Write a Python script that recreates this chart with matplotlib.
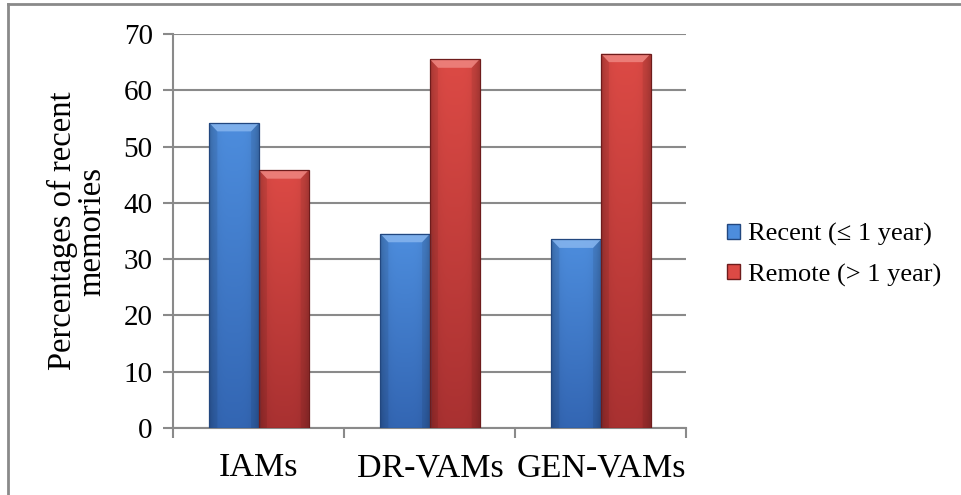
import matplotlib
matplotlib.use("Agg")
import matplotlib.pyplot as plt
import numpy as np
from matplotlib.patches import Polygon, Patch
from matplotlib.lines import Line2D

plt.rcParams['font.family'] = ['Liberation Serif', 'DejaVu Serif']

categories = ["IAMs", "DR-VAMs", "GEN-VAMs"]
recent = [54.2, 34.5, 33.5]
remote = [45.8, 65.5, 66.5]
series_names = ["Recent (\u2264 1 year)", "Remote (> 1 year)"]
yticks = [0, 10, 20, 30, 40, 50, 60, 70]

# top colour, bottom colour, edge colour, bevel colour
blue = ("#4d8ddd", "#3366b3", "#22477f", "#8ab8f0")
red = ("#dc4a45", "#a93131", "#6e1c1c", "#f08a85")

fig = plt.figure(figsize=(9.62, 4.95), dpi=100)
ax = fig.add_axes([173.5 / 962, 1 - 428 / 495, 513 / 962, 394 / 495])

# outer frame (only top and left edges fall inside the image)
fig.add_artist(Line2D([8 / 962, 8 / 962], [0, 1 - 4 / 495], transform=fig.transFigure,
                      color="#8a8a8a", lw=2))
fig.add_artist(Line2D([8 / 962, 1], [1 - 4 / 495, 1 - 4 / 495], transform=fig.transFigure,
                      color="#8a8a8a", lw=2))


def hex_rgb(h):
    return np.array([int(h[i:i + 2], 16) / 255 for i in (1, 3, 5)])


def shade_bar(rect, cols):
    x0, w = rect.get_x(), rect.get_width()
    h = rect.get_height()
    top, bot = hex_rgb(cols[0]), hex_rgb(cols[1])
    ny, nx = 64, 32
    t = np.linspace(0, 1, ny)[:, None, None]
    img = top * (1 - t) + bot * t
    s = np.linspace(-1, 1, nx)[None, :, None]
    img = img * (1 - 0.18 * np.abs(s) ** 4)
    img = np.broadcast_to(img, (ny, nx, 3)).copy()
    im = ax.imshow(img, extent=[x0, x0 + w, 0, h], aspect="auto", zorder=3,
                   interpolation="bilinear")
    im.set_clip_path(rect)
    # bevelled top
    bw = w * 0.16
    bh = 1.5
    bevel = Polygon([[x0, h], [x0 + w, h], [x0 + w - bw, h - bh], [x0 + bw, h - bh]],
                    closed=True, facecolor=cols[3], edgecolor="none", alpha=0.8, zorder=4)
    ax.add_patch(bevel)
    for xa, xb in ((x0, x0 + bw), (x0 + w, x0 + w - bw)):
        side = Polygon([[xa, h], [xb, h - bh], [xb, 0], [xa, 0]], closed=True,
                       facecolor="black", edgecolor="none", alpha=0.07, zorder=4)
        ax.add_patch(side)
    ax.add_patch(Polygon([[x0, 0], [x0, h], [x0 + w, h], [x0 + w, 0]], closed=True,
                         facecolor="none", edgecolor=cols[2], lw=0.9, zorder=5))


x = np.arange(len(categories))
bw = 0.29
b1 = ax.bar(x - bw / 2, recent, bw, color=blue[1], zorder=2)
b2 = ax.bar(x + bw / 2, remote, bw, color=red[1], zorder=2)
for r in b1:
    shade_bar(r, blue)
for r in b2:
    shade_bar(r, red)

ax.set_xlim(-0.5, 2.5)
ax.set_ylim(0, 70)
ax.set_yticks(yticks)
ax.set_xticks(x)
ax.set_xticks([-0.5, 0.5, 1.5, 2.5], minor=True)
ax.set_xticklabels(categories, fontsize=24.5)
ax.tick_params(axis="x", which="major", length=0, pad=18)
ax.tick_params(axis="x", which="minor", length=7, width=1.5, color="#8a8a8a")
ax.tick_params(axis="y", length=7, width=1.5, color="#8a8a8a", labelsize=21, pad=8)
ax.yaxis.grid(True, color="#8a8a8a", lw=1.5, zorder=0)
ax.set_axisbelow(True)
for s in ("top", "right"):
    ax.spines[s].set_visible(False)
for s in ("left", "bottom"):
    ax.spines[s].set_color("#8a8a8a")
    ax.spines[s].set_linewidth(1.5)

ax.set_ylabel("Percentages of recent\nmemories", fontsize=23.5, linespacing=0.95, labelpad=12)

handles = [Patch(facecolor=blue[0], edgecolor=blue[2]), Patch(facecolor=red[0], edgecolor=red[2])]
fig.legend(handles, series_names, loc="center left", bbox_to_anchor=(703 / 962, 1 - 255 / 495),
           frameon=False, fontsize=19, handlelength=0.5, handleheight=0.5,
           handletextpad=0.3, labelspacing=0.65)

fig.savefig("out.png", dpi=100)
